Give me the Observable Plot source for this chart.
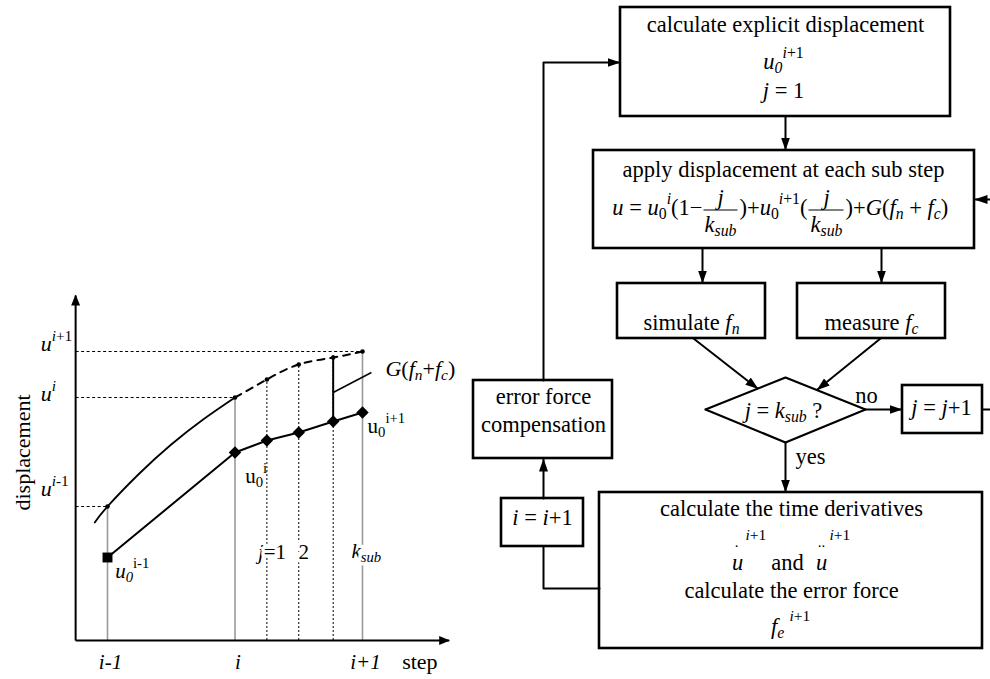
<!DOCTYPE html>
<html>
<head>
<meta charset="utf-8">
<script src="https://cdn.jsdelivr.net/npm/d3@7"></script>
<script src="https://cdn.jsdelivr.net/npm/@observablehq/plot@0.6"></script>
<style>
  html, body { margin: 0; padding: 0; background: #fff; }
  #wrap { position: relative; width: 990px; height: 679px; overflow: hidden; background: #fff; }
  #wrap > svg { position: absolute; left: 0; top: 0; }
  #wrap svg, #wrap text, #wrap tspan { font-family: "Liberation Serif", "Times New Roman", serif !important; white-space: pre; }
</style>
</head>
<body>
<div id="wrap"></div>
<script>
const FONT = "Liberation Serif";

// ---------------- LEFT CHART DATA ----------------
const steps = [0, 1, 2];                       // i-1, i, i+1
const stepTickLabels = ["*i-1*", "*i*", "*i+1*"];
const stepAxisLabel = "step";
const dispAxisLabel = "displacement";
const axisStep = [-0.25, 2.68];
const axisDisp = [0, 3.45];

// true response curve (solid) and its predicted continuation (dashed)
const curveStep = [-0.1, 0, 0.25, 0.5, 0.75, 1];
const curveDisp = [1.18, 1.34, 1.67, 1.96, 2.21, 2.43];
const predStep = [1, 1.25, 1.5, 1.77, 2];
const predDisp = [2.43, 2.61, 2.76, 2.83, 2.89];

// explicit displacement path (square + diamonds)
const explStep = [0, 1, 1.25, 1.5, 1.77, 2];
const explDisp = [0.83, 1.88, 2.0, 2.08, 2.19, 2.28];

// reference displacement levels u^{i-1}, u^i, u^{i+1}
const refDisp = [1.34, 2.43, 2.89];
const refLabels = ["*u*^{*i*-1}", "*u*^{*i*}", "*u*^{*i*+1}"];
const refLabelDisp = [1.45, 2.40, 2.90];

const pointLabels = ["*u*_{*0*}^{i-1}", "u_{0}^{i}", "u_{0}^{i+1}"];
const pointLabelStep = [0.06, 1.08, 2.04];
const pointLabelDisp = [0.63, 1.58, 2.08];

const subLabels = ["*j*=1", "2", "*k*_{*sub*}"];
const subLabelStep = [1.29, 1.54, 2.03];
const subLabelDisp = [0.82, 0.82, 0.83];

const gLabel = "*G*(*f*_{*n*}+*f*_{*c*})";
const gLabelStep = 2.18, gLabelDisp = 2.65;
const gArrowStep = 1.77, gArrowDisp = [2.21, 2.85];
const gLeaderStep = [1.77, 2.07], gLeaderDisp = [2.48, 2.68];
const dispLabelDisp = 1.88, stepLabelStep = 2.45;

// ---------------- FLOWCHART DATA ----------------
const flowText = [
  "calculate explicit displacement", "*u*_{*0*}^{*i*+1}", "*j* = 1",
  "apply displacement at each sub step",
  "simulate *f*_{*n*}", "measure *f*_{*c*}",
  "*j* = *k*_{*sub*} ?", "no", "*j* = *j*+1", "yes",
  "error force", "compensation", "*i* = *i*+1",
  "calculate the time derivatives", "and", "calculate the error force"
];
const formulaParts = ["*u* = *u*_{0}^{*i*}(1−", ")+*u*_{0}^{*i*+1}(", ")+*G*(*f*_{*n*} + *f*_{*c*})"];
const fractionNum = ["*j*", "*j*"];
const fractionDen = ["*k*_{*sub*}", "*k*_{*sub*}"];
const derivBase = ["*u*", "*u*", "*f*_{*e*}"];
const derivDots = [".", ".."];
const derivSup = ["*i*+1", "*i*+1", "*i*+1"];

// ---------------- FLOWCHART LAYOUT (layout units = px) ----------------
const flowTextPos = [[785,31],[783,68],[783,97],[783,176],[691,329],[871,329],
  [783,417],[866,402],[941,414],[810,463],[543,403],[543,431],[542,524],
  [791,515],[787,569],[791,597]];
const boxLayout = [[620,950,7,116],[593,974,150,248],[617,765,283,338],[797,945,283,338],
  [902,982,385,433],[473,612,380,458],[501,583,498,546],[599,982,492,648]];
const diamondLayout = [[705,409],[785,377],[865,409],[785,442],[705,409]];
const arrowLayout = [
  [[543,380],[543,62],[619,62]],
  [[785,116],[785,149]],
  [[990,199],[975,199]],
  [[702,248],[702,282]],
  [[881,248],[881,282]],
  [[693,338],[757,388]],
  [[880,338],[817,389]],
  [[865,409],[901,409]],
  [[785,442],[785,491]],
  [[543,498],[543,459]]
];
const lineLayout = [[[982,409],[990,409]], [[543,546],[543,588],[599,588]]];
const formulaPos = [[702,214,"end"],[739,214,"start"],[845,214,"start"]];
const fractionPos = [[720,703,737],[826,808,843]];   // centre, bar x1, bar x2
const fracY = {num: 204, bar: 209.5, den: 231};
const derivBasePos = [[737,569],[821,569],[777,633]];
const derivDotPos = [[736,546],[821,546]];
const derivSupPos = [[745,539],[829,539],[789,620]];

// ---------------- helpers ----------------
function parseRich(s) {
  const runs = []; let italic = false; let buf = ""; let i = 0;
  const flush = () => { if (buf) runs.push({t: buf, italic, shift: 0}); buf = ""; };
  while (i < s.length) {
    const c = s[i];
    if (c === "*") { flush(); italic = !italic; i++; }
    else if ((c === "_" || c === "^") && s[i + 1] === "{") {
      flush();
      const end = s.indexOf("}", i + 2);
      const inner = s.slice(i + 2, end);
      const sh = c === "^" ? 1 : -1;
      let it = italic, b = "";
      for (const ch of inner) {
        if (ch === "*") { if (b) runs.push({t: b, italic: it, shift: sh}); b = ""; it = !it; }
        else b += ch;
      }
      if (b) runs.push({t: b, italic: it, shift: sh});
      i = end + 1;
    } else { buf += c; i++; }
  }
  flush();
  return runs;
}
function richify(svg) {
  d3.select(svg).selectAll("text").each(function () {
    const raw = this.textContent;
    if (!/[*_^]/.test(raw)) return;
    const fs = parseFloat(getComputedStyle(this).fontSize) || 20;
    const runs = parseRich(raw);
    this.textContent = "";
    let cur = 0;
    for (const r of runs) {
      const off = r.shift > 0 ? -0.45 * fs : r.shift < 0 ? 0.22 * fs : 0;
      const t = d3.select(this).append("tspan").text(r.t);
      if (off !== cur) t.attr("dy", off - cur);
      if (r.italic) t.attr("font-style", "italic");
      if (r.shift) t.attr("font-size", fs * 0.7);
      cur = off;
    }
  });
}
function fillMarkers(svg, len, wid, desc) {
  const sel = desc ? d3.select(svg).selectAll(`g[aria-description="${desc}"] marker`) : d3.select(svg).selectAll("marker");
  sel.each(function () {
    const m = d3.select(this);
    const color = m.attr("stroke") || "black";
    m.attr("viewBox", `${-len} ${-wid / 2} ${len + 1} ${wid}`)
      .attr("markerUnits", "userSpaceOnUse")
      .attr("markerWidth", len + 1).attr("markerHeight", wid)
      .attr("refX", 0).attr("refY", 0)
      .attr("fill", color).attr("stroke", "none");
    m.selectAll("*").remove();
    m.append("path").attr("d", `M${-len},${-wid / 2}L1,0L${-len},${wid / 2}Z`);
  });
}
const polyRows = (polys) => polys.flatMap((p, k) => p.map(([x, y]) => ({id: k, x, y})));

// ---------------- LEFT CHART ----------------
const curvePts = curveStep.map((s, k) => ({step: s, disp: curveDisp[k]}));
const predPts = predStep.map((s, k) => ({step: s, disp: predDisp[k]}));
const explPts = explStep.map((s, k) => ({step: s, disp: explDisp[k]}));
const refPts = steps.map((s, k) => ({step: s, disp: refDisp[k], label: refLabels[k], ly: refLabelDisp[k], tick: stepTickLabels[k]}));
const ptLab = pointLabels.map((t, k) => ({t, step: pointLabelStep[k], disp: pointLabelDisp[k]}));
const subLab = subLabels.map((t, k) => ({t, step: subLabelStep[k], disp: subLabelDisp[k]}));
const txt = {fontFamily: FONT, fill: "black", lineAnchor: "bottom"};
const FS = 22.5;

const left = Plot.plot({
  width: 990, height: 679, margin: 0,
  style: {background: "transparent", overflow: "visible", fontFamily: FONT},
  x: {domain: [0, 2], range: [107, 362], axis: null},
  y: {domain: [0, 3], range: [640, 340], axis: null},
  marks: [
    Plot.link(refPts, {x1: axisStep[0], x2: "step", y1: "disp", y2: "disp", stroke: "black", strokeWidth: 1, strokeDasharray: "3,2.5"}),
    Plot.ruleX(refPts, {x: "step", y1: 0, y2: "disp", stroke: "#9a9a9a", strokeWidth: 1.6}),
    Plot.ruleX(predPts.slice(1, 4), {x: "step", y1: 0, y2: "disp", stroke: "black", strokeWidth: 1, strokeDasharray: "2,2"}),
    Plot.line(curvePts, {x: "step", y: "disp", curve: "natural", stroke: "black", strokeWidth: 1.8}),
    Plot.line(predPts, {x: "step", y: "disp", curve: "natural", stroke: "black", strokeWidth: 2, strokeDasharray: "7,6"}),
    Plot.dot([curvePts[1], ...predPts], {x: "step", y: "disp", r: 2.3, fill: "black"}),
    Plot.line(explPts, {x: "step", y: "disp", stroke: "black", strokeWidth: 2}),
    Plot.dot(explPts.slice(0, 1), {x: "step", y: "disp", symbol: "square", r: 5.6, fill: "black"}),
    Plot.dot(explPts.slice(1), {x: "step", y: "disp", symbol: "diamond2", r: 5.6, fill: "black"}),
    // axes
    Plot.link([0], {x1: axisStep[0], x2: axisStep[0], y1: axisDisp[0], y2: axisDisp[1], stroke: "black", strokeWidth: 2, markerEnd: "arrow", ariaDescription: "axes"}),
    Plot.link([0], {x1: axisStep[0], x2: axisStep[1], y1: axisDisp[0], y2: axisDisp[0], stroke: "black", strokeWidth: 2, markerEnd: "arrow", ariaDescription: "axes"}),
    // correction arrow G(fn+fc)
    Plot.link([0], {x1: gArrowStep, x2: gArrowStep, y1: gArrowDisp[0], y2: gArrowDisp[1], stroke: "black", strokeWidth: 2, markerStart: "arrow", markerEnd: "arrow", ariaDescription: "garrow"}),
    Plot.link([0], {x1: gLeaderStep[0], x2: gLeaderStep[1], y1: gLeaderDisp[0], y2: gLeaderDisp[1], stroke: "black", strokeWidth: 1.5}),
    // labels
    Plot.text(refPts, {x: axisStep[0], y: "ly", text: "label", dx: -35, textAnchor: "start", fontSize: 22, ...txt}),
    Plot.text(refPts, {x: "step", y: 0, text: "tick", dx: 3, dy: 28, fontSize: 21, ...txt}),
    Plot.text([stepAxisLabel], {x: stepLabelStep, y: 0, text: (d) => d, dy: 28, fontSize: 22, ...txt}),
    Plot.text([dispAxisLabel], {x: axisStep[0], y: dispLabelDisp, text: (d) => d, dx: -53, rotate: -90, fontSize: 22, fontFamily: FONT, fill: "black", lineAnchor: "middle"}),
    Plot.text(ptLab, {x: "step", y: "disp", text: "t", textAnchor: "start", fontSize: 21, ...txt}),
    Plot.text(subLab, {x: "step", y: "disp", text: "t", fontSize: 21, stroke: "white", strokeWidth: 7, paintOrder: "stroke", ...txt}),
    Plot.text([gLabel], {x: gLabelStep, y: gLabelDisp, text: (d) => d, textAnchor: "start", fontSize: 22, ...txt})
  ]
});

// ---------------- FLOWCHART ----------------
const boxes = boxLayout.map(([x1, x2, y1, y2]) => ({x1, x2, y1, y2}));
const flowLabels = flowText.map((t, k) => ({t, x: flowTextPos[k][0], y: flowTextPos[k][1]}));
const fParts = formulaParts.map((t, k) => ({t, x: formulaPos[k][0], y: formulaPos[k][1], a: formulaPos[k][2]}));
const fracs = fractionNum.map((n, k) => ({num: n, den: fractionDen[k], x: fractionPos[k][0], x1: fractionPos[k][1], x2: fractionPos[k][2]}));
const dBase = derivBase.map((t, k) => ({t, x: derivBasePos[k][0], y: derivBasePos[k][1]}));
const dDots = derivDots.map((t, k) => ({t, x: derivDotPos[k][0], y: derivDotPos[k][1]}));
const dSup = derivSup.map((t, k) => ({t, x: derivSupPos[k][0], y: derivSupPos[k][1]}));

const flow = Plot.plot({
  width: 990, height: 679, margin: 0,
  style: {background: "transparent", overflow: "visible", fontFamily: FONT},
  x: {domain: [0, 990], range: [0, 990], axis: null},
  y: {domain: [0, 679], range: [0, 679], axis: null},
  marks: [
    Plot.rect(boxes, {x1: "x1", x2: "x2", y1: "y1", y2: "y2", fill: "white", stroke: "black", strokeWidth: 2.6}),
    Plot.line(diamondLayout, {x: (d) => d[0], y: (d) => d[1], fill: "white", stroke: "black", strokeWidth: 2.2}),
    Plot.line(polyRows(arrowLayout), {x: "x", y: "y", z: "id", stroke: "black", strokeWidth: 2, markerEnd: "arrow"}),
    Plot.line(polyRows(lineLayout), {x: "x", y: "y", z: "id", stroke: "black", strokeWidth: 2}),
    Plot.text(flowLabels, {x: "x", y: "y", text: "t", fontSize: FS, ...txt}),
    Plot.text(fParts.filter((d) => d.a === "end"), {x: "x", y: "y", text: "t", textAnchor: "end", fontSize: FS, ...txt}),
    Plot.text(fParts.filter((d) => d.a === "start"), {x: "x", y: "y", text: "t", textAnchor: "start", fontSize: FS, ...txt}),
    Plot.link(fracs, {x1: "x1", x2: "x2", y1: fracY.bar, y2: fracY.bar, stroke: "black", strokeWidth: 1}),
    Plot.text(fracs, {x: "x", y: fracY.num, text: "num", fontSize: FS, ...txt}),
    Plot.text(fracs, {x: "x", y: fracY.den, text: "den", fontSize: FS, ...txt}),
    Plot.text(dBase, {x: "x", y: "y", text: "t", fontSize: FS, ...txt}),
    Plot.text(dDots, {x: "x", y: "y", text: "t", fontSize: 15, ...txt}),
    Plot.text(dSup, {x: "x", y: "y", text: "t", textAnchor: "start", fontSize: 15.5, ...txt})
  ]
});

const wrap = document.getElementById("wrap");
wrap.appendChild(left);
wrap.appendChild(flow);
richify(left);
richify(flow);
fillMarkers(left, 10, 9);
fillMarkers(left, 13, 10, "garrow");
fillMarkers(flow, 12, 9);
</script>
</body>
</html>
